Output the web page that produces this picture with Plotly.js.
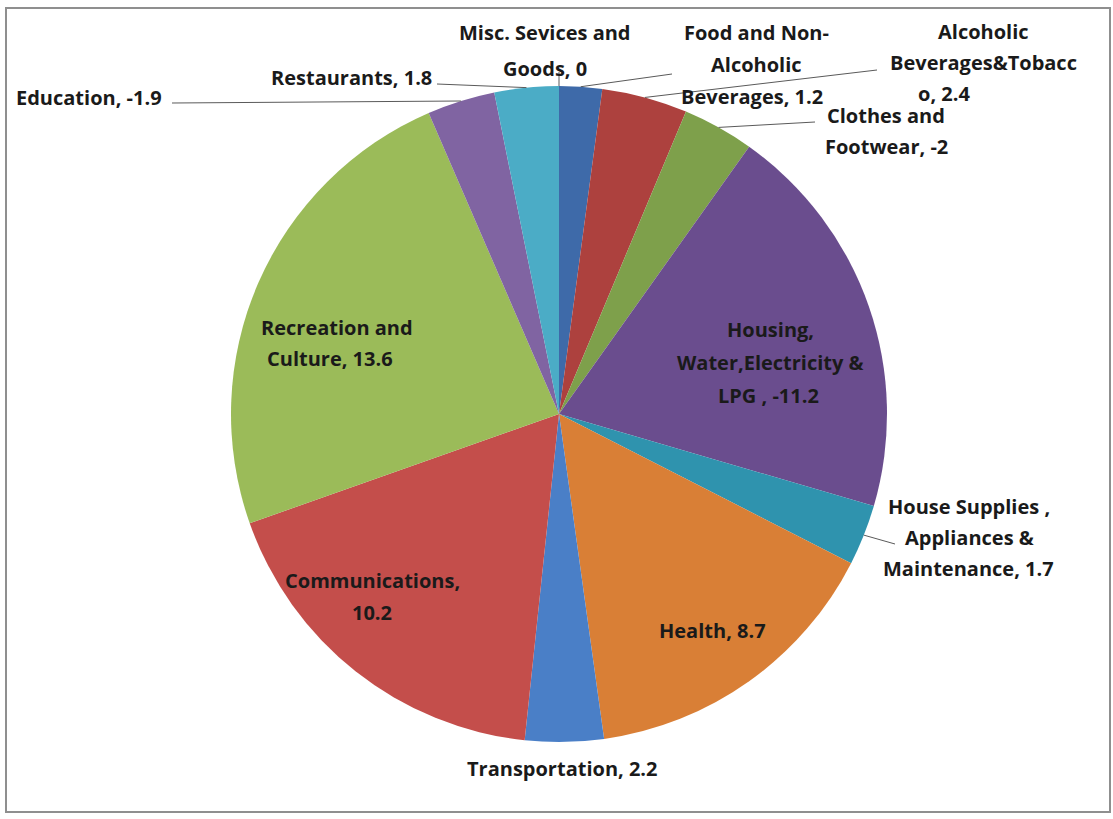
<!DOCTYPE html>
<html>
<head>
<meta charset="utf-8">
<script src="https://cdn.plot.ly/plotly-3.0.1.min.js"></script>
<style>html,body{margin:0;padding:0;background:#fff;}#chart{width:1113px;height:819px;}</style>
</head>
<body>
<div id="chart"></div>
<script>
// ---- data ----
const categories = [
  "Food and Non-<br>Alcoholic<br>Beverages",
  "Alcoholic<br>Beverages&Tobacc<br>o",
  "Clothes and<br>Footwear",
  "Housing,<br>Water,Electricity &<br>LPG ",
  "House Supplies ,<br>Appliances &<br>Maintenance",
  "Health",
  "Transportation",
  "Communications,<br>",
  "Recreation and<br>Culture",
  "Education",
  "Restaurants",
  "Misc. Sevices and<br>Goods"
];
const values = [1.2, 2.4, -2, -11.2, 1.7, 8.7, 2.2, 10.2, 13.6, -1.9, 1.8, 0];
const colors = ["#3E6AA9", "#AD413E", "#7EA04B", "#6A4D8E", "#2F93AE", "#D97F36",
                "#4A7FC7", "#C44E4B", "#9BBB59", "#8064A2", "#4BACC6", "#4F81BD"];

// ---- layout (label placement in pixels) ----
const W = 1113, H = 819, CX = 559, CY = 414, R = 328;
const labelLayout = [
  {lines: [[756, 33], [756, 65], [752, 96]], leader: [672, 74]},
  {lines: [[983, 32], [983, 63], [944, 93]], leader: [877, 70]},
  {lines: [[886, 116], [886, 146]], leader: [815, 122]},
  {lines: [[770, 329], [770, 362], [768, 395]], leader: null},
  {lines: [[969, 506], [969, 537], [968, 568]], leader: [895, 544]},
  {lines: [[712, 630]], leader: null},
  {lines: [[562, 768]], leader: null},
  {lines: [[372, 580], [372, 612]], leader: null},
  {lines: [[337, 327], [330, 358]], leader: null},
  {lines: [[14, 97]], leader: [172, 103], anchor: "left"},
  {lines: [[434, 77]], leader: [437, 84], anchor: "right"},
  {lines: [[545, 33], [545, 68]], leader: [559, 72]}
];

const sizes = values.map(v => Math.abs(v));
const total = sizes.reduce((a, b) => a + b, 0);

const font = {family: "'Open Sans', Lato, sans-serif", size: 20, color: "#1a1a1a", weight: 700};
const annotations = [];
const shapes = [];
let cum = 0;
categories.forEach((c, i) => {
  const mid = (cum + sizes[i] / 2) / total * 2 * Math.PI;
  cum += sizes[i];
  const lines = (c.endsWith("<br>") ? c + values[i] : c + ", " + values[i]).split("<br>");
  const L = labelLayout[i];
  lines.forEach((t, j) => {
    annotations.push({
      xref: "paper", yref: "paper",
      x: L.lines[j][0] / W, y: 1 - L.lines[j][1] / H,
      text: "<b>" + t + "</b>", showarrow: false,
      xanchor: L.anchor || "center", yanchor: "middle", font: font
    });
  });
  if (L.leader) {
    const ex = CX + R * Math.sin(mid), ey = CY - R * Math.cos(mid);
    shapes.push({
      type: "line", xref: "paper", yref: "paper",
      x0: L.leader[0] / W, y0: 1 - L.leader[1] / H,
      x1: ex / W, y1: 1 - ey / H,
      line: {color: "#5a5a5a", width: 1}
    });
  }
});

shapes.push({
  type: "rect", xref: "paper", yref: "paper",
  x0: 6 / W, x1: 1110 / W, y0: 1 - 812 / H, y1: 1 - 8 / H,
  line: {color: "#8f8f8f", width: 2}, fillcolor: "rgba(0,0,0,0)", layer: "below"
});

const trace = {
  type: "pie",
  labels: categories,
  values: sizes,
  sort: false,
  direction: "clockwise",
  rotation: 0,
  textinfo: "none",
  hoverinfo: "none",
  automargin: false,
  showlegend: false,
  marker: {colors: colors, line: {width: 0}},
  domain: {x: [(CX - R) / W, (CX + R) / W], y: [1 - (CY + R) / H, 1 - (CY - R) / H]}
};

Plotly.newPlot("chart", [trace], {
  width: W, height: H,
  margin: {l: 0, r: 0, t: 0, b: 0},
  paper_bgcolor: "#ffffff",
  showlegend: false,
  annotations: annotations,
  shapes: shapes
}, {displayModeBar: false, staticPlot: true});
</script>
</body>
</html>
